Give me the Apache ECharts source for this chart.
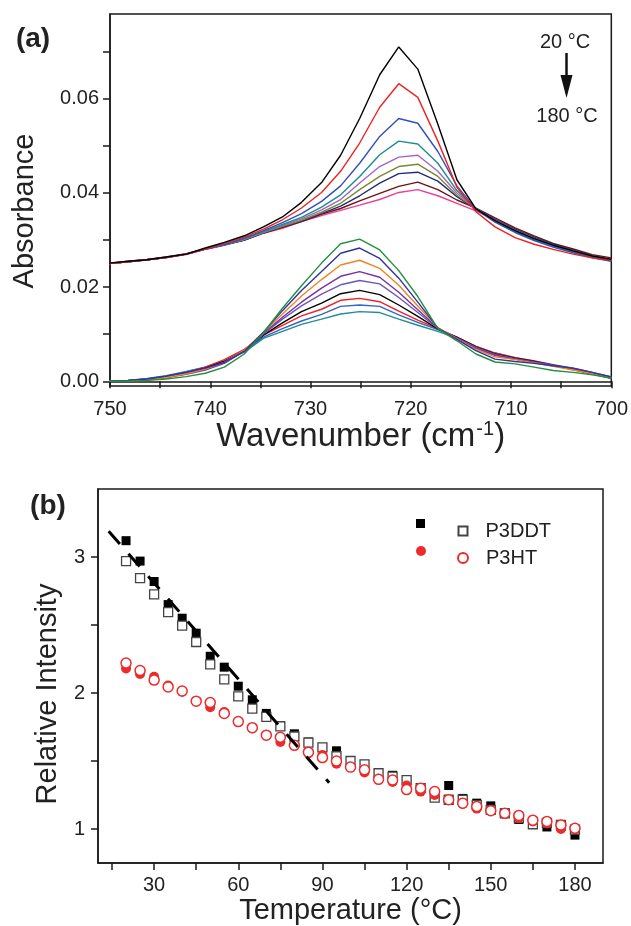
<!DOCTYPE html>
<html>
<head>
<meta charset="utf-8">
<script src="https://cdn.jsdelivr.net/npm/echarts@6/dist/echarts.min.js"></script>
</head>
<body style="margin:0;background:#fff">
<div id="main" style="width:631px;height:926px;"></div>
<script>
// ---- panel (a): IR spectra, two groups of curves, 20 -> 180 C ----
var wavenumber = [750.1, 748.2, 746.3, 744.4, 742.4, 740.5, 738.6, 736.6, 734.7, 732.8, 730.9, 728.9, 727.0, 725.1,
    723.1, 721.2, 719.3, 717.3, 715.4, 713.5, 711.6, 709.6, 707.7, 705.8, 703.8, 701.9, 700.0];

// upper group
var up20 = [.0251, .0255, .0258, .0264, .0270, .0283, .0295, .0309, .0328, .0349, .0380, .0422, .0480, .0558, .0651, .0710, .0663, .0546, .0428, .0366, .0341, .0320, .0303, .0289, .0277, .0266, .0259];
var up40 = [.0250, .0254, .0258, .0263, .0270, .0281, .0293, .0306, .0323, .0343, .0368, .0401, .0446, .0506, .0582, .0632, .0603, .0510, .0412, .0360, .0328, .0305, .0291, .0280, .0270, .0262, .0257];
var up60 = [.0250, .0254, .0258, .0263, .0270, .0281, .0290, .0304, .0320, .0337, .0356, .0382, .0415, .0463, .0520, .0558, .0548, .0488, .0415, .0365, .0338, .0316, .0299, .0285, .0273, .0262, .0255];
var up80 = [.0250, .0254, .0258, .0263, .0270, .0281, .0290, .0303, .0318, .0333, .0348, .0370, .0396, .0435, .0481, .0510, .0504, .0463, .0405, .0366, .0340, .0318, .0301, .0287, .0275, .0263, .0256];
var up100 = [.0250, .0254, .0258, .0263, .0270, .0281, .0290, .0302, .0317, .0331, .0345, .0364, .0386, .0421, .0456, .0476, .0480, .0446, .0400, .0366, .0341, .0320, .0302, .0288, .0276, .0264, .0257];
var up120 = [.0250, .0254, .0258, .0263, .0270, .0281, .0290, .0301, .0316, .0329, .0342, .0359, .0378, .0407, .0435, .0456, .0461, .0435, .0395, .0366, .0342, .0321, .0304, .0289, .0277, .0265, .0258];
var up140 = [.0250, .0254, .0258, .0263, .0270, .0281, .0290, .0300, .0315, .0328, .0340, .0356, .0372, .0394, .0421, .0441, .0444, .0425, .0392, .0366, .0344, .0323, .0306, .0291, .0278, .0266, .0259];
var up160 = [.0251, .0255, .0259, .0264, .0271, .0281, .0290, .0300, .0315, .0327, .0339, .0355, .0367, .0383, .0399, .0414, .0423, .0407, .0385, .0368, .0347, .0326, .0309, .0293, .0281, .0269, .0262];
var up180 = [.0250, .0254, .0258, .0263, .0269, .0280, .0289, .0300, .0314, .0325, .0339, .0352, .0363, .0374, .0386, .0401, .0407, .0394, .0378, .0362, .0343, .0322, .0305, .0290, .0278, .0265, .0258];

// lower group
var lo20 = [.0000, .0000, .0002, .0005, .0010, .0017, .0030, .0058, .0103, .0155, .0203, .0251, .0292, .0302, .0279, .0235, .0180, .0112, .0086, .0058, .0041, .0037, .0030, .0023, .0019, .0014, .0007];
var lo40 = [.0000, .0002, .0005, .0011, .0019, .0028, .0040, .0064, .0104, .0150, .0193, .0233, .0272, .0283, .0261, .0219, .0168, .0113, .0089, .0065, .0047, .0042, .0038, .0033, .0028, .0019, .0009];
var lo60 = [.0000, .0001, .0003, .0008, .0016, .0026, .0040, .0066, .0104, .0143, .0181, .0216, .0247, .0257, .0240, .0204, .0160, .0114, .0090, .0068, .0052, .0046, .0039, .0032, .0024, .0016, .0007];
var lo80 = [.0000, .0001, .0003, .0008, .0015, .0024, .0038, .0064, .0102, .0136, .0168, .0198, .0223, .0233, .0221, .0189, .0152, .0113, .0091, .0070, .0055, .0047, .0040, .0033, .0026, .0017, .0008];
var lo100 = [.0000, .0001, .0004, .0009, .0016, .0026, .0040, .0064, .0100, .0132, .0160, .0185, .0205, .0214, .0207, .0178, .0146, .0112, .0092, .0072, .0057, .0048, .0041, .0034, .0026, .0017, .0008];
var lo120 = [.0000, .0001, .0004, .0010, .0018, .0028, .0042, .0065, .0098, .0124, .0148, .0166, .0186, .0193, .0184, .0162, .0138, .0111, .0093, .0073, .0058, .0049, .0042, .0034, .0025, .0016, .0007];
var lo140 = [.0000, .0000, .0002, .0008, .0018, .0030, .0046, .0068, .0098, .0119, .0139, .0153, .0172, .0176, .0169, .0149, .0130, .0112, .0094, .0074, .0060, .0050, .0043, .0034, .0025, .0016, .0006];
var lo160 = [.0000, .0002, .0005, .0011, .0020, .0030, .0043, .0064, .0094, .0112, .0128, .0142, .0159, .0162, .0159, .0141, .0125, .0110, .0094, .0074, .0060, .0050, .0043, .0035, .0028, .0019, .0009];
var lo180 = [.0000, .0002, .0006, .0012, .0021, .0030, .0043, .0062, .0091, .0106, .0121, .0132, .0143, .0148, .0146, .0132, .0119, .0106, .0091, .0070, .0056, .0047, .0040, .0033, .0025, .0016, .0007];

var upperCurves = [up20, up40, up60, up80, up100, up120, up140, up160, up180];
var upperColors = ['#000000', '#ee2222', '#3050b8', '#1f8c8c', '#a464c8', '#7a8a30', '#232a78', '#6e1212', '#ee3f92'];
var lowerCurves = [lo20, lo40, lo60, lo80, lo100, lo120, lo140, lo160, lo180];
var lowerColors = ['#22903e', '#3232a2', '#f08422', '#7432a6', '#6c58b8', '#000000', '#ee2222', '#3464c6', '#1f8c96'];

var absTicks = [0, 0.01, 0.02, 0.03, 0.04, 0.05, 0.06, 0.07];
var absLabels = [0, 0.02, 0.04, 0.06];

// ---- panel (b): relative intensity vs temperature ----
var temperature = [20, 25, 30, 35, 40, 45, 50, 55, 60, 65, 70, 75, 80, 85, 90, 95, 100, 105, 110, 115, 120,
    125, 130, 135, 140, 145, 150, 155, 160, 165, 170, 175, 180];
var p3ddtFilled = [3.12, 2.97, 2.82, 2.65, 2.55, 2.44, 2.27, 2.19, 2.05, 1.95, 1.85, 1.76, 1.70, 1.64, 1.60, 1.575, 1.49,
    1.475, 1.415, 1.395, 1.355, 1.305, 1.25, 1.32, 1.225, 1.19, 1.17, 1.12, 1.07, 1.04, 1.015, 1.02, 0.955];
var p3ddtOpen = [2.97, 2.845, 2.725, 2.595, 2.495, 2.375, 2.21, 2.10, 1.975, 1.885, 1.825, 1.755, 1.68, 1.635, 1.60, 1.535,
    1.50, 1.475, 1.41, 1.385, 1.36, 1.30, 1.23, 1.215, 1.215, 1.175, 1.14, 1.115, 1.08, 1.035, 1.045, 1.03, 0.995];
var p3htFilled = [2.18, 2.14, 2.12, 2.055, 2.01, 1.94, 1.895, 1.86, 1.79, 1.74, 1.69, 1.64, 1.615, 1.555, 1.545, 1.48,
    1.455, 1.415, 1.37, 1.345, 1.32, 1.275, 1.25, 1.215, 1.185, 1.15, 1.135, 1.11, 1.08, 1.055, 1.04, 1.00, 1.00];
var p3htOpen = [2.22, 2.165, 2.095, 2.045, 2.015, 1.94, 1.93, 1.85, 1.79, 1.745, 1.69, 1.675, 1.615, 1.565, 1.525, 1.50,
    1.455, 1.435, 1.365, 1.36, 1.29, 1.30, 1.275, 1.215, 1.19, 1.165, 1.135, 1.115, 1.10, 1.065, 1.055, 1.03, 1.005];
var fitLine = [[13.8, 3.19], [92.4, 1.34]];   // dashed guide for P3DDT

var tempTicks = [15, 30, 45, 60, 75, 90, 105, 120, 135, 150, 165, 180];
var tempLabels = [30, 60, 90, 120, 150, 180];
var riTicks = [1, 1.5, 2, 2.5, 3];
var riLabels = [1, 2, 3];

var FONT = 'Liberation Sans, Arial, sans-serif';
var AX = '#1a1a1a';

function pairs(xs, ys) {
    return ys.map(function (v, i) { return [xs[i], v]; });
}

var myChart = echarts.init(document.getElementById('main'));

var series = [];
upperCurves.concat(lowerCurves).forEach(function (c, k) {
    series.push({
        type: 'line',
        xAxisIndex: 0,
        yAxisIndex: 0,
        symbol: 'none',
        silent: true,
        data: pairs(wavenumber, c),
        lineStyle: { width: 1.4, color: k < 9 ? upperColors[k] : lowerColors[k - 9] },
        z: 20 - k
    });
});

series.push(
    {
        name: 'P3DDT-filled', type: 'scatter', xAxisIndex: 1, yAxisIndex: 1,
        symbol: 'rect', symbolSize: 9, data: pairs(temperature, p3ddtFilled),
        itemStyle: { color: '#000', opacity: 1 }, z: 3
    },
    {
        name: 'P3DDT', type: 'scatter', xAxisIndex: 1, yAxisIndex: 1,
        symbol: 'rect', symbolSize: 9, data: pairs(temperature, p3ddtOpen),
        itemStyle: { color: '#fff', borderColor: '#444', borderWidth: 1.3, opacity: 1 }, z: 4
    },
    {
        name: 'P3HT-filled', type: 'scatter', xAxisIndex: 1, yAxisIndex: 1,
        symbol: 'circle', symbolSize: 10, data: pairs(temperature, p3htFilled),
        itemStyle: { color: '#ee2a2a', opacity: 1 }, z: 5
    },
    {
        name: 'P3HT', type: 'scatter', xAxisIndex: 1, yAxisIndex: 1,
        symbol: 'circle', symbolSize: 10, data: pairs(temperature, p3htOpen),
        itemStyle: { color: '#fff', borderColor: '#ee2a2a', borderWidth: 1.5, opacity: 1 }, z: 6
    },
    {
        type: 'line', xAxisIndex: 1, yAxisIndex: 1, symbol: 'none', silent: true,
        data: fitLine,
        lineStyle: { color: '#000', width: 3, type: [17, 13] }, z: 7
    }
);

function legendItem(name, left, top, size, withText) {
    return {
        data: [name],
        left: left,
        top: top,
        padding: 0,
        itemWidth: size,
        itemHeight: size,
        selectedMode: false,
        formatter: withText ? '{name}' : function () { return ''; },
        textStyle: { fontFamily: FONT, fontSize: 20, color: '#222', lineHeight: 24, padding: [0, 0, 0, 13] }
    };
}

option = {
    animation: false,
    backgroundColor: '#fff',
    textStyle: { fontFamily: FONT },
    grid: [
        { left: 110, top: 14, width: 503, height: 372, show: true, borderColor: AX, borderWidth: 1.5 },
        { left: 98, top: 489, width: 505, height: 374, show: true, borderColor: AX, borderWidth: 1.5 }
    ],
    xAxis: [
        {
            gridIndex: 0, type: 'value', min: 700, max: 750, interval: 5, inverse: true,
            name: 'Wavenumber (cm{sup|-1})', nameLocation: 'middle', nameGap: 31,
            nameTextStyle: {
                fontSize: 33, color: '#222', fontFamily: FONT,
                rich: { sup: { fontSize: 20, color: '#222', fontFamily: FONT, verticalAlign: 'top', padding: [0, 0, 14, 1] } }
            },
            axisLine: { lineStyle: { color: AX, width: 1.5 } },
            axisTick: { inside: false, length: 7, lineStyle: { color: AX, width: 1.5 } },
            axisLabel: {
                fontSize: 20, color: '#222', margin: 13,
                formatter: function (v) { return v % 10 === 0 ? v : ''; }
            },
            splitLine: { show: false }
        },
        {
            gridIndex: 1, type: 'value', min: 10, max: 190,
            name: 'Temperature (\u00B0C)', nameLocation: 'middle', nameGap: 33,
            nameTextStyle: { fontSize: 29, color: '#222', fontFamily: FONT },
            axisLine: { lineStyle: { color: AX, width: 1.5 } },
            axisTick: { inside: false, length: 7, customValues: tempTicks, lineStyle: { color: AX, width: 1.5 } },
            axisLabel: { fontSize: 20, color: '#222', margin: 12, customValues: tempLabels },
            splitLine: { show: false }
        }
    ],
    yAxis: [
        {
            gridIndex: 0, type: 'value', min: -0.001, max: 0.078,
            axisLine: { lineStyle: { color: AX, width: 1.5 } },
            axisTick: { inside: false, length: 7, customValues: absTicks, lineStyle: { color: AX, width: 1.5 } },
            axisLabel: {
                fontSize: 20, color: '#222', margin: 11, customValues: absLabels,
                formatter: function (v) { return v.toFixed(2); }
            },
            splitLine: { show: false }
        },
        {
            gridIndex: 1, type: 'value', min: 0.75, max: 3.5,
            axisLine: { lineStyle: { color: AX, width: 1.5 } },
            axisTick: { inside: false, length: 7, customValues: riTicks, lineStyle: { color: AX, width: 1.5 } },
            axisLabel: { fontSize: 20, color: '#222', margin: 13, customValues: riLabels },
            splitLine: { show: false }
        }
    ],
    legend: [
        legendItem('P3DDT-filled', 416, 519, 9, false),
        legendItem('P3HT-filled', 416, 546, 10, false),
        legendItem('P3DDT', 457.5, 519, 9, true),
        legendItem('P3HT', 457, 546, 10, true)
    ],
    graphic: [
        { type: 'text', x: 33, y: 39, style: { text: '(a)', font: 'bold 28px ' + FONT, fill: '#222', textAlign: 'center', textVerticalAlign: 'middle' } },
        { type: 'text', x: 48, y: 506, style: { text: '(b)', font: 'bold 28px ' + FONT, fill: '#222', textAlign: 'center', textVerticalAlign: 'middle' } },
        { type: 'text', x: 25, y: 211, rotation: Math.PI / 2, style: { text: 'Absorbance', font: '29px ' + FONT, fill: '#222', textAlign: 'center', textVerticalAlign: 'middle' } },
        { type: 'text', x: 48, y: 694, rotation: Math.PI / 2, style: { text: 'Relative Intensity', font: '29px ' + FONT, fill: '#222', textAlign: 'center', textVerticalAlign: 'middle' } },
        { type: 'text', x: 565, y: 42, style: { text: '20 \u00B0C', font: '20px ' + FONT, fill: '#222', textAlign: 'center', textVerticalAlign: 'middle' } },
        { type: 'text', x: 567, y: 116, style: { text: '180 \u00B0C', font: '20px ' + FONT, fill: '#222', textAlign: 'center', textVerticalAlign: 'middle' } },
        { type: 'line', shape: { x1: 566.5, y1: 53, x2: 566.5, y2: 80 }, style: { stroke: '#111', lineWidth: 2.5 } },
        { type: 'polygon', shape: { points: [[560.5, 75], [572.5, 75], [566.5, 98]] }, style: { fill: '#111' } }
    ],
    series: series
};

myChart.setOption(option);
</script>
</body>
</html>
